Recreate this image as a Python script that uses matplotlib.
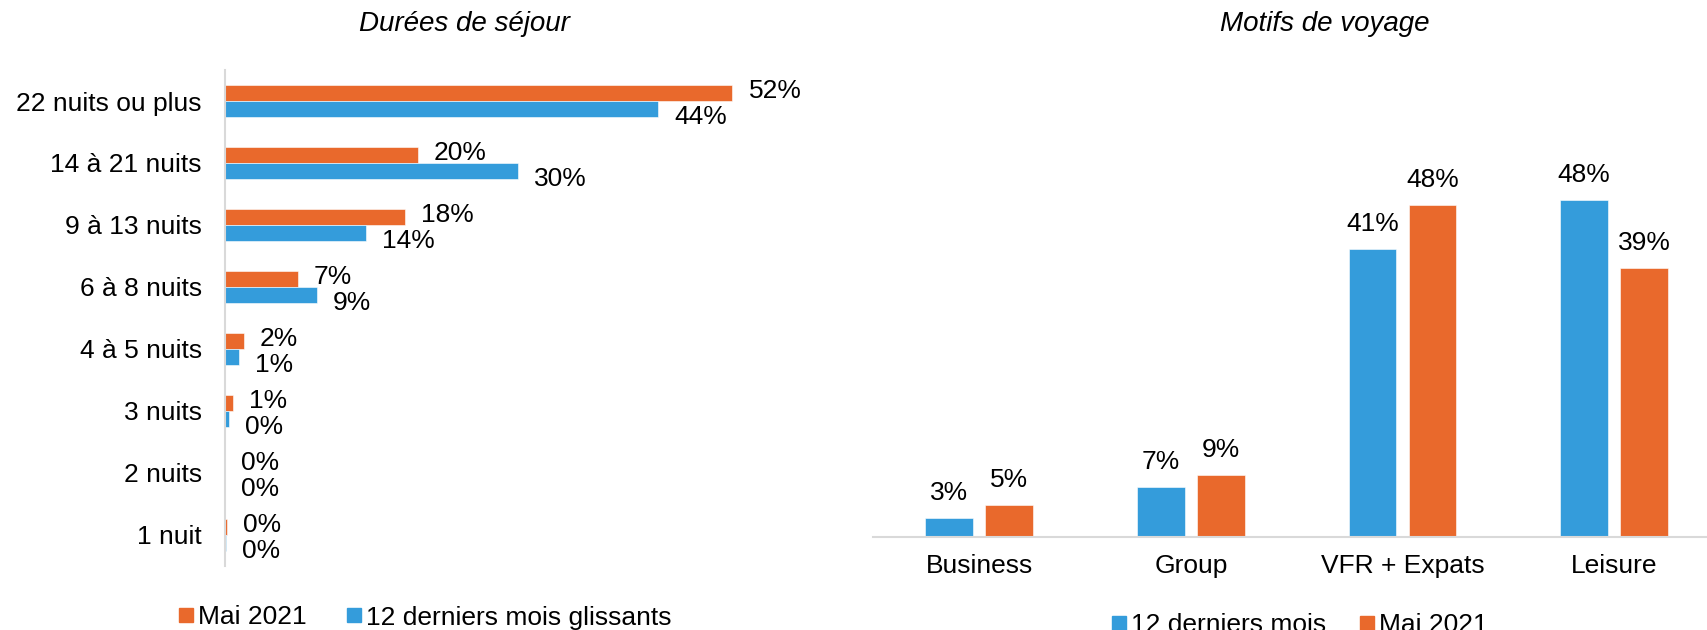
import matplotlib
matplotlib.use("Agg")
import matplotlib.pyplot as plt
from matplotlib.lines import Line2D
import numpy as np

plt.rcParams['font.family'] = ['Liberation Sans', 'DejaVu Sans']

# ---- Data ----
sejour_categories = ['22 nuits ou plus', '14 à 21 nuits', '9 à 13 nuits', '6 à 8 nuits',
                     '4 à 5 nuits', '3 nuits', '2 nuits', '1 nuit']
sejour_mai_2021 = [52.0, 19.7, 18.4, 7.4, 1.9, 0.8, 0.0, 0.2]
sejour_12_mois = [44.4, 30.0, 14.4, 9.4, 1.4, 0.4, 0.0, 0.1]

motifs_categories = ['Business', 'Group', 'VFR + Expats', 'Leisure']
motifs_12_mois = [2.8, 7.2, 41.3, 48.4]
motifs_mai_2021 = [4.7, 8.9, 47.7, 38.6]

ORANGE = '#E9692C'
BLUE = '#349CDB'
GRID = '#D9D9D9'
FS = 19

W, H = 1708, 630
fig = plt.figure(figsize=(W / 100, H / 100), dpi=100)

def fx(px):
    return px / W

def fy(py):
    return 1 - py / H

# ---- Left chart: horizontal bars ----
axL = fig.add_axes([fx(225.5), fy(566), fx(830) - fx(225.5), fy(70) - fy(566)])
n = len(sejour_categories)
y = np.arange(n)[::-1]
h = 0.263
axL.barh(y + h / 2, sejour_mai_2021, height=h, color=ORANGE, edgecolor='white', linewidth=0.4)
axL.barh(y - h / 2, sejour_12_mois, height=h, color=BLUE, edgecolor='white', linewidth=0.4)
for yi, v in zip(y, sejour_mai_2021):
    axL.annotate(f"{round(v)}%", (v, yi + h / 2), xytext=(11.5, 1.5), textcoords='offset points',
                 ha='left', va='center', fontsize=FS)
for yi, v in zip(y, sejour_12_mois):
    axL.annotate(f"{round(v)}%", (v, yi - h / 2), xytext=(11.5, -6), textcoords='offset points',
                 ha='left', va='center', fontsize=FS)
axL.set_xlim(0, (830 - 225.5) / 9.75)
axL.set_ylim(-0.5, n - 0.5)
axL.set_yticks(y)
axL.set_yticklabels(sejour_categories, fontsize=FS)
axL.tick_params(axis='y', length=0, pad=17)
axL.set_xticks([])
for s in ['top', 'right', 'bottom']:
    axL.spines[s].set_visible(False)
axL.spines['left'].set_color(GRID)
axL.spines['left'].set_linewidth(1.5)

fig.text(fx(464.6), fy(24), 'Durées de séjour', ha='center', va='center',
         fontsize=20, style='italic')

legL = [Line2D([], [], marker='s', linestyle='none', color=ORANGE, markersize=10, label='Mai 2021'),
        Line2D([], [], marker='s', linestyle='none', color=BLUE, markersize=10,
               label='12 derniers mois glissants')]
fig.legend(handles=legL, loc='center left', bbox_to_anchor=(fx(178), fy(617.5)), ncol=2,
           frameon=False, fontsize=FS, handlelength=0.6, handletextpad=0.15,
           columnspacing=1.5, borderpad=0, borderaxespad=0)

# ---- Right chart: vertical bars ----
axR = fig.add_axes([fx(873.3), fy(537.3), fx(1720) - fx(873.3), fy(100) - fy(537.3)])
x = np.arange(len(motifs_categories))
bw = 0.225
off = 0.1416
axR.bar(x - off, motifs_12_mois, width=bw, color=BLUE, edgecolor='white', linewidth=0.4)
axR.bar(x + off, motifs_mai_2021, width=bw, color=ORANGE, edgecolor='white', linewidth=0.4)
for xi, v in zip(x, motifs_12_mois):
    axR.annotate(f"{round(v)}%", (xi - off, v), xytext=(0, 18), textcoords='offset points',
                 ha='center', va='center', fontsize=FS)
for xi, v in zip(x, motifs_mai_2021):
    axR.annotate(f"{round(v)}%", (xi + off, v), xytext=(0, 18), textcoords='offset points',
                 ha='center', va='center', fontsize=FS)
axR.set_xlim(-0.5, len(motifs_categories) - 0.5)
axR.set_ylim(0, (537.3 - 100) / 6.97)
axR.set_xticks(x)
axR.set_xticklabels(motifs_categories, fontsize=FS)
axR.tick_params(axis='x', length=0, pad=12)
axR.set_yticks([])
for s in ['top', 'right', 'left']:
    axR.spines[s].set_visible(False)
axR.spines['bottom'].set_color(GRID)
axR.spines['bottom'].set_linewidth(1.5)

fig.text(fx(1325), fy(24), 'Motifs de voyage', ha='center', va='center',
         fontsize=20, style='italic')

legR = [Line2D([], [], marker='s', linestyle='none', color=BLUE, markersize=10, label='12 derniers mois'),
        Line2D([], [], marker='s', linestyle='none', color=ORANGE, markersize=10, label='Mai 2021')]
fig.legend(handles=legR, loc='center left', bbox_to_anchor=(fx(1111), fy(625)), ncol=2,
           frameon=False, fontsize=FS, handlelength=0.6, handletextpad=0.15,
           columnspacing=1.25, borderpad=0, borderaxespad=0)

fig.savefig('out.png', dpi=100)
